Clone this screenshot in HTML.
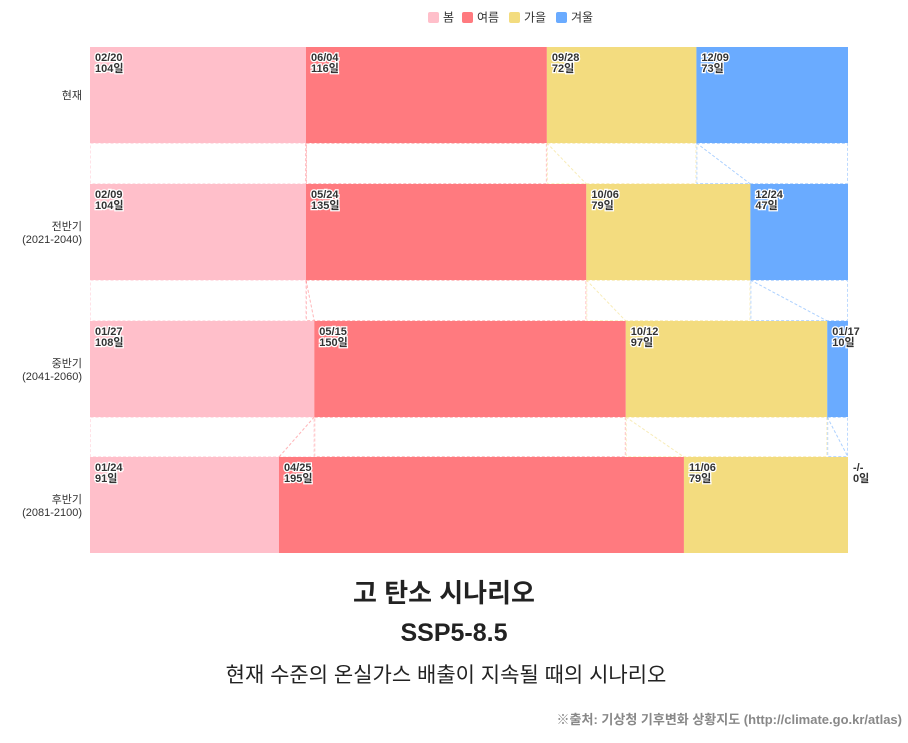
<!DOCTYPE html>
<html><head><meta charset="utf-8">
<style>
body{margin:0;background:#fff;font-family:"Liberation Sans","Noto Sans CJK KR",sans-serif;}
#wrap{position:relative;width:908px;height:743px;overflow:hidden;}
.t{position:absolute;left:0;width:908px;text-align:center;color:#222;}
</style></head>
<body>
<div id="wrap">
<svg id="chart" width="908" height="743"></svg>
<div class="t" style="top:573px;left:-10px;font-size:26px;font-weight:bold;">고 탄소 시나리오</div>
<div class="t" style="top:619px;font-size:25px;font-weight:bold;">SSP5-8.5</div>
<div class="t" style="top:659px;left:-8px;font-size:21px;">현재 수준의 온실가스 배출이 지속될 때의 시나리오</div>
<div style="position:absolute;right:6px;top:709px;font-size:13px;font-weight:bold;color:#888;">※출처: 기상청 기후변화 상황지도 (http://climate.go.kr/atlas)</div>
</div>
<script>
const rows = ["현재","전반기|(2021-2040)","중반기|(2041-2060)","후반기|(2081-2100)"];
const seasons = ["봄","여름","가을","겨울"];
const colors = ["#ffbfca","#ff7a7f","#f3dc7f","#6aabff"];
const startDates = [["02/20","06/04","09/28","12/09"],["02/09","05/24","10/06","12/24"],["01/27","05/15","10/12","01/17"],["01/24","04/25","11/06","-/-"]];
const days = [[104,116,72,73],[104,135,79,47],[108,150,97,10],[91,195,79,0]];

const svg=document.getElementById('chart');
const NS="http://www.w3.org/2000/svg";
const X0=90,X1=848,rowTop=[47,184,321,457],rowH=96;
const xs=d=>X0+(X1-X0)*d/365;
function mk(tag,attrs,parent){const e=document.createElementNS(NS,tag);for(const k in attrs)e.setAttribute(k,attrs[k]);(parent||svg).appendChild(e);return e;}

let lx=428;
seasons.forEach((s,i)=>{
  const g=mk('g',{});
  
  
  mk('rect',{x:lx,y:12,width:11,height:11,rx:2,fill:colors[i]},g);
  const t=mk('text',{x:lx+15,y:21.5,'font-size':12,fill:'#333'},g);t.textContent=s;
  lx+=15+s.length*13+6;
});

const bounds=days.map(r=>{let c=0;const b=[0];r.forEach(d=>{c+=d;b.push(c);});return b;});

for(let r=0;r<rows.length-1;r++){
  const yA=rowTop[r]+rowH,yB=rowTop[r+1];
  for(let i=0;i<4;i++){
    const a=bounds[r][i],b=bounds[r][i+1];
    if(b>a){
      const rc=mk('rect',{x:xs(a)+0.5,y:yA+0.5,width:xs(b)-xs(a)-1,height:yB-yA-1,fill:'none',stroke:colors[i],'stroke-opacity':0.45,'stroke-dasharray':'3,2'});
      
      
    }
    if(i>0){
      const ln=mk('line',{x1:xs(bounds[r][i]),y1:yA,x2:xs(bounds[r+1][i]),y2:yB,stroke:colors[i],'stroke-opacity':0.55,'stroke-dasharray':'3,2'});
      
      
    }
  }
}

rows.forEach((name,r)=>{
  const y=rowTop[r];
  const parts=name.split('|');
  const lab=mk('text',{x:82,y:y+rowH/2+(parts.length>1?-2:4),'text-anchor':'end','font-size':11,fill:'#333'});
  
  
  parts.forEach((p,k)=>{const ts=mk('tspan',{x:82,dy:k?13:0},lab);ts.textContent=p;});
  for(let i=0;i<4;i++){
    const a=bounds[r][i],b=bounds[r][i+1];
    if(b>a){
      const rc=mk('rect',{x:xs(a),y:y,width:xs(b)-xs(a),height:rowH,fill:colors[i]});
      
      
    }
    const tx=xs(a)+5;
    const t=mk('text',{x:tx,y:y+14,'font-size':11,'font-weight':'bold',fill:'#333',stroke:'#fff','stroke-width':2.5,'paint-order':'stroke'});
    
    
    const t1=mk('tspan',{x:tx},t);t1.textContent=startDates[r][i];
    const t2=mk('tspan',{x:tx,dy:11},t);t2.textContent=days[r][i]+'일';
  }
});
</script>
</body></html>
